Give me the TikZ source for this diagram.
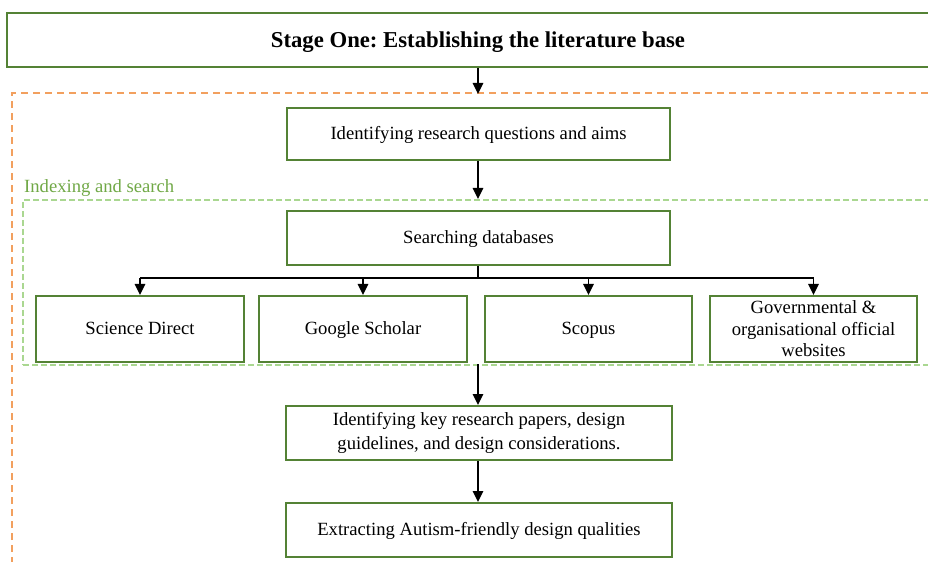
\documentclass[tikz,border=0pt]{standalone}
\usepackage{fontspec}
\setmainfont{Liberation Serif}
\frenchspacing
\usetikzlibrary{arrows.meta,calc}
\definecolor{boxgreen}{RGB}{84,130,53}
\definecolor{lightgreen}{RGB}{170,215,145}
\definecolor{labelgreen}{RGB}{112,168,70}
\definecolor{dashorange}{RGB}{242,160,95}
\tikzset{
  stepbox/.style={draw=boxgreen, line width=2bp, fill=white, inner sep=0pt,
    align=center, font=\fontsize{18.7}{20}\selectfont},
  oneline/.style={text height=14bp, text depth=3bp},
  flow/.style={draw=black, line width=1.5bp, -{Triangle[width=10.5bp,length=11bp]}},
  plainline/.style={draw=black, line width=1.5bp},
}
\begin{document}
\begin{tikzpicture}[x=1bp,y=-1bp]
\useasboundingbox (0,0) rectangle (928,562);

% outer dashed frame of stage one
\draw[dashorange, line width=2bp, dash pattern=on 7bp off 5bp] (12,600) -- (12,93) -- (940,93);

% indexing and search container
\node[draw=lightgreen, line width=2bp, dash pattern=on 6bp off 3bp, minimum width=920bp,
  minimum height=165bp, anchor=north west, inner sep=0pt] (index) at (22,199) {};
\node[anchor=base west, text=labelgreen, font=\fontsize{18.7}{20}\selectfont, inner sep=0pt] (indexlabel) at (24,193) {Indexing and search};

% title box
\node[stepbox, minimum width=940bp, minimum height=54bp, anchor=north west] (title) at (6,12) {};
\node[font=\bfseries\fontsize{22.8}{24}\selectfont, inner sep=0pt, anchor=base] (titletext) at (478,48) {Stage One: Establishing the literature base};

% main flow boxes
\node[stepbox, oneline, minimum width=383bp, minimum height=52bp] (aims) at (478.5,134) {Identifying research questions and aims};
\node[stepbox, oneline, minimum width=383bp, minimum height=54bp] (search) at (478.5,238) {Searching databases};
\node[stepbox, oneline, minimum width=208bp, minimum height=66bp] (sd) at (140,329) {Science Direct};
\node[stepbox, oneline, minimum width=208bp, minimum height=66bp] (gs) at (363,329) {Google Scholar};
\node[stepbox, oneline, minimum width=207bp, minimum height=66bp] (sc) at (588.5,329) {Scopus};
\node[stepbox, minimum width=207bp, minimum height=66bp, font=\fontsize{18.7}{21.5}\selectfont] (gov) at (813.5,329) {Governmental \&\\organisational official\\websites};
\node[stepbox, minimum width=386bp, minimum height=54bp, font=\fontsize{18.7}{24}\selectfont] (papers) at (479,433) {Identifying key research papers, design\\guidelines, and design considerations.};
\node[stepbox, oneline, minimum width=386bp, minimum height=54bp] (extract) at (479,530) {Extracting Autism-friendly design qualities};

% connectors
\coordinate (split) at (478,278);
\coordinate (framein) at (478,94);
\coordinate (indexout) at (478,364);
\draw[flow] (title.south -| framein) -- (framein);
\draw[flow] (aims.south -| framein) -- (index.north -| framein);
\draw[plainline] (search.south -| split) -- (split);
\draw[plainline] (sd.north |- split) -- (gov.north |- split);
\draw[flow] (sd.north |- split) -- (sd.north);
\draw[flow] (gs.north |- split) -- (gs.north);
\draw[flow] (sc.north |- split) -- (sc.north);
\draw[flow] (gov.north |- split) -- (gov.north);
\draw[flow] (indexout) -- (papers.north -| indexout);
\draw[flow] (papers.south -| framein) -- (extract.north -| framein);
\end{tikzpicture}
\end{document}
